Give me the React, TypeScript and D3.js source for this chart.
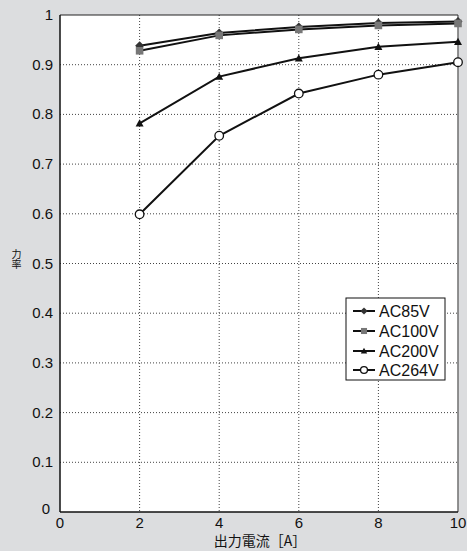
import React from "react";
import * as d3 from "d3";

const xValues = [2, 4, 6, 8, 10];
const seriesNames = ["AC85V", "AC100V", "AC200V", "AC264V"];
const ac85 = [0.938, 0.964, 0.976, 0.984, 0.987];
const ac100 = [0.928, 0.959, 0.971, 0.979, 0.983];
const ac200 = [0.782, 0.876, 0.913, 0.936, 0.946];
const ac264 = [0.599, 0.757, 0.842, 0.88, 0.905];
const xTicks = [0, 2, 4, 6, 8, 10];
const yTicks = [0, 0.1, 0.2, 0.3, 0.4, 0.5, 0.6, 0.7, 0.8, 0.9, 1];
const xTitle = "出力電流［A］";
const yTitle = "力率";

const W = 467, H = 551;
const L = 60, R = 458, T = 15, B = 512;

export default function App() {
  const x = d3.scaleLinear().domain([0, 10]).range([L, R]);
  const y = d3.scaleLinear().domain([0, 1]).range([B, T]);
  const line = d3.line<number>().x((_, i) => x(xValues[i])).y((d) => y(d));
  const data = [ac85, ac100, ac200, ac264];
  const font = "'Liberation Sans', Arial, Helvetica, sans-serif";
  const cjk = "'Noto Sans CJK JP', sans-serif";

  const marker = (k: number, cx: number, cy: number, key: string, sc = 1) => {
    if (k === 0) {
      const s = 4.5 * sc;
      return <path key={key} d={`M${cx},${cy - s}L${cx + s},${cy}L${cx},${cy + s}L${cx - s},${cy}Z`} fill="#333" />;
    }
    if (k === 1) {
      const s = 3.8 * sc;
      return <rect key={key} x={cx - s} y={cy - s} width={2 * s} height={2 * s} fill="#777" />;
    }
    if (k === 2) {
      const s = 4 * sc;
      return <path key={key} d={`M${cx},${cy - s}L${cx + s},${cy + s * 0.8}L${cx - s},${cy + s * 0.8}Z`} fill="#111" />;
    }
    return <circle key={key} cx={cx} cy={cy} r={4.3 * sc} fill="#fff" stroke="#111" strokeWidth={1.3} />;
  };

  const legX = 346, legY = 298, legW = 99, legH = 82;
  const legRows = [311, 331, 351, 370];

  return (
    <svg width={W} height={H} style={{ position: "absolute", left: 0, top: 0, display: "block" }}>
      <rect x={0} y={0} width={W} height={H} fill="#dcdddf" />
      <rect x={L} y={T} width={R - L} height={B - T} fill="#fff" />
      {/* grid */}
      {xValues.slice(0, 4).map((v) => (
        <line key={"gx" + v} x1={x(v)} x2={x(v)} y1={T} y2={B} stroke="#444" strokeWidth={1} strokeDasharray="1,2" />
      ))}
      {yTicks.slice(1, 10).map((v) => (
        <line key={"gy" + v} x1={L} x2={R} y1={y(v)} y2={y(v)} stroke="#444" strokeWidth={1} strokeDasharray="1,2" />
      ))}
      {/* frame */}
      <line x1={R} x2={R} y1={T} y2={B} stroke="#777" strokeWidth={1.6} />
      <line x1={L} x2={R} y1={T} y2={T} stroke="#222" strokeWidth={1.2} />
      <line x1={L} x2={L} y1={T} y2={B} stroke="#111" strokeWidth={1.5} />
      <line x1={L} x2={R} y1={B} y2={B} stroke="#111" strokeWidth={1.5} />
      {/* series */}
      {data.map((d, k) => (
        <path key={"l" + k} d={line(d) || ""} fill="none" stroke="#111" strokeWidth={2} />
      ))}
      {data.map((d, k) => d.map((v, i) => marker(k, x(xValues[i]), y(v), `m${k}-${i}`)))}
      {/* y ticks */}
      {yTicks.map((v) => (
        <text key={"yt" + v} x={v === 0 ? 50 : 53} y={v === 0 ? y(v) + 2 : y(v) + 5} textAnchor="end" fontFamily={font} fontSize={15} fill="#111">
          {v === 0 || v === 1 ? String(v) : v.toFixed(1)}
        </text>
      ))}
      {/* x ticks */}
      {xTicks.map((v) => (
        <text key={"xt" + v} x={x(v)} y={528} textAnchor="middle" fontFamily={font} fontSize={15} fill="#111">
          {v}
        </text>
      ))}
      <text x={260} y={546} textAnchor="middle" fontFamily={cjk} fontSize={14} fill="#111">
        {xTitle}
      </text>
      <text x={16.5} y={259} textAnchor="middle" fontFamily={cjk} fontSize={10} fill="#111" style={{ writingMode: "vertical-rl" }}>
        {yTitle}
      </text>
      {/* legend */}
      <rect x={legX} y={legY} width={legW} height={legH} fill="#fff" stroke="#111" strokeWidth={1} />
      {seriesNames.map((n, k) => (
        <g key={"lg" + k}>
          <line x1={353} x2={375} y1={legRows[k]} y2={legRows[k]} stroke="#111" strokeWidth={2} />
          {marker(k, 364, legRows[k], "lm" + k, 0.8)}
          <text x={379} y={legRows[k] + 5.5} fontFamily={font} fontSize={16} fill="#111">
            {n}
          </text>
        </g>
      ))}
    </svg>
  );
}
